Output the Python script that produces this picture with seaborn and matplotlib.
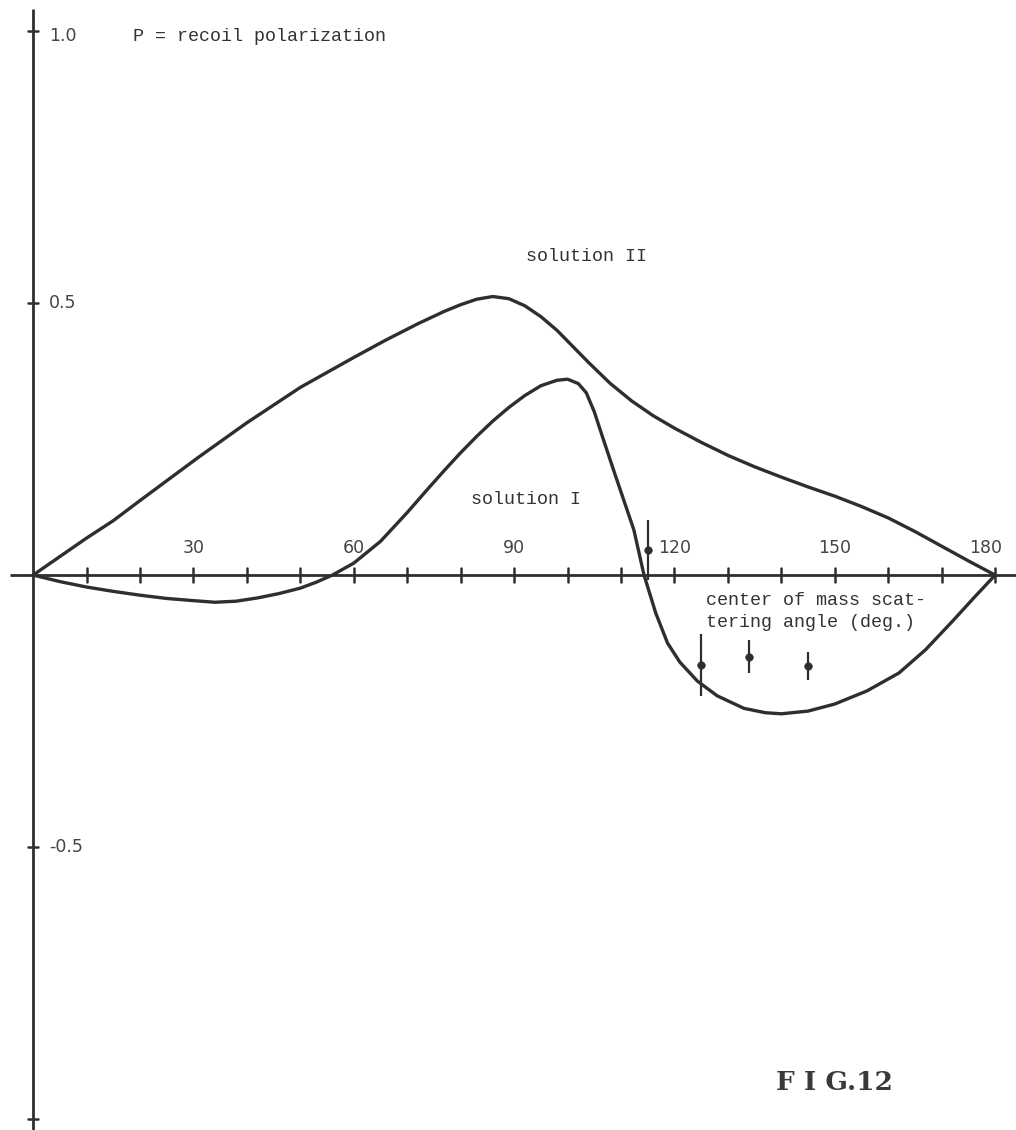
import numpy as np
import pandas as pd
import matplotlib
matplotlib.use("Agg")
import matplotlib.pyplot as plt
import seaborn as sns

# ---- data ----
sol1_angle = [0, 5, 10, 15, 20, 25, 30, 34, 38, 42, 46, 50, 53, 56, 60, 65, 70, 74, 77, 80,
              83, 86, 89, 92, 95, 98, 100, 102, 103.5, 105, 106.5, 108.6, 110.5, 112.4,
              114.3, 116.5, 118.7, 121, 124.3, 128, 133, 137, 140, 145, 150, 156, 162,
              167, 172, 176, 180]
sol1_p = [0, -0.012, -0.022, -0.03, -0.037, -0.043, -0.047, -0.05, -0.048, -0.042, -0.034,
          -0.024, -0.013, 0.0, 0.022, 0.062, 0.115, 0.16, 0.193, 0.225, 0.255, 0.283, 0.308,
          0.33, 0.348, 0.358, 0.36, 0.352, 0.335, 0.30, 0.255, 0.193, 0.138, 0.083, 0.0,
          -0.07, -0.125, -0.16, -0.195, -0.222, -0.245, -0.253, -0.255, -0.25, -0.237,
          -0.213, -0.18, -0.137, -0.085, -0.042, 0]

sol2_angle = [0, 10, 15, 20, 31, 40, 50, 60, 66, 72, 77, 80, 83, 86, 89, 92, 95, 98, 101,
              104, 108, 112, 116, 120, 125, 130, 135, 140, 145, 150, 155, 160, 165, 170,
              175, 180]
sol2_p = [0, 0.068, 0.10, 0.137, 0.217, 0.28, 0.345, 0.40, 0.432, 0.462, 0.485, 0.497,
          0.507, 0.512, 0.508, 0.495, 0.475, 0.45, 0.42, 0.39, 0.352, 0.32, 0.293, 0.27,
          0.244, 0.22, 0.199, 0.18, 0.162, 0.145, 0.126, 0.105, 0.08, 0.053, 0.026, 0]

pt_angle = [115, 125, 134, 145]
pt_p = [0.046, -0.165, -0.15, -0.167]
pt_err = [0.055, 0.057, 0.03, 0.026]

xtick_vals = [30, 60, 90, 120, 150, 180]
xtick_labels = ["30", "60", "90", "120", "150", "180"]
ytick_vals = [1.0, 0.5, -0.5, -1.0]
ytick_labels = ["1.0", "0.5", "-0.5", ""]

sns.set_theme(style="white")
plt.rcParams['font.family'] = ['DejaVu Sans']

ink = "#2e2e2e"
fig = plt.figure(figsize=(10.16, 11.30), dpi=100)
ax = fig.add_axes([0, 0, 1, 1])
ax.set_xlim(-6.2, 183.9)
ax.set_ylim(-1.020, 1.057)
ax.axis("off")

# axes lines
ax.plot([-4.3, 184], [0, 0], color=ink, lw=2.0, solid_capstyle="butt")
ax.plot([0, 0], [-1.03, 1.04], color=ink, lw=2.0, solid_capstyle="butt")
for t in range(10, 181, 10):
    ax.plot([t, t], [-0.013, 0.013], color=ink, lw=1.8)
for v in ytick_vals:
    ax.plot([-1.0, 1.0], [v, v], color=ink, lw=1.8)

mono = ["Liberation Mono", "DejaVu Sans Mono"]
for v, lab in zip(xtick_vals, xtick_labels):
    xpos = v if v < 180 else 178.3
    ax.text(xpos, 0.05, lab, ha="center", va="center", fontsize=12.5,
            color="#444444", family=["DejaVu Sans"])
for v, lab in zip(ytick_vals, ytick_labels):
    ax.text(3.0, v - (0.01 if v == 1.0 else 0), lab, ha="left", va="center", fontsize=12.5,
            color="#444444", family=["DejaVu Sans"])

# curves
df1 = pd.DataFrame({"angle": sol1_angle, "P": sol1_p})
df2 = pd.DataFrame({"angle": sol2_angle, "P": sol2_p})
sns.lineplot(data=df1, x="angle", y="P", ax=ax, color=ink, lw=2.4, sort=False,
             solid_joinstyle="round", solid_capstyle="round")
sns.lineplot(data=df2, x="angle", y="P", ax=ax, color=ink, lw=2.4, sort=False,
             solid_joinstyle="round", solid_capstyle="round")

# data points with error bars
ax.errorbar(pt_angle, pt_p, yerr=pt_err, fmt="none", ecolor=ink, elinewidth=1.6)
dfp = pd.DataFrame({"angle": pt_angle, "P": pt_p})
sns.scatterplot(data=dfp, x="angle", y="P", ax=ax, color=ink, s=30, edgecolor=ink, zorder=5)

# texts
tfs = 13.2
ax.text(18.7, 0.99, "P = recoil polarization", ha="left", va="center", fontsize=tfs,
        family=mono, color="#333333")
ax.text(103.5, 0.585, "solution II", ha="center", va="center", fontsize=tfs,
        family=mono, color="#333333")
ax.text(92.3, 0.138, "solution I", ha="center", va="center", fontsize=tfs,
        family=mono, color="#333333")
ax.text(125.9, -0.046, "center of mass scat-", ha="left", va="center", fontsize=tfs,
        family=mono, color="#333333")
ax.text(125.9, -0.088, "tering angle (deg.)", ha="left", va="center", fontsize=tfs,
        family=mono, color="#333333")
ax.text(150, -0.932, "F I G.12", ha="center", va="center", fontsize=19,
        family=["DejaVu Serif"], fontweight="bold", color="#3a3a3a")

ax.set_xlabel("")
ax.set_ylabel("")
fig.savefig("out.png", dpi=100, facecolor="white")
